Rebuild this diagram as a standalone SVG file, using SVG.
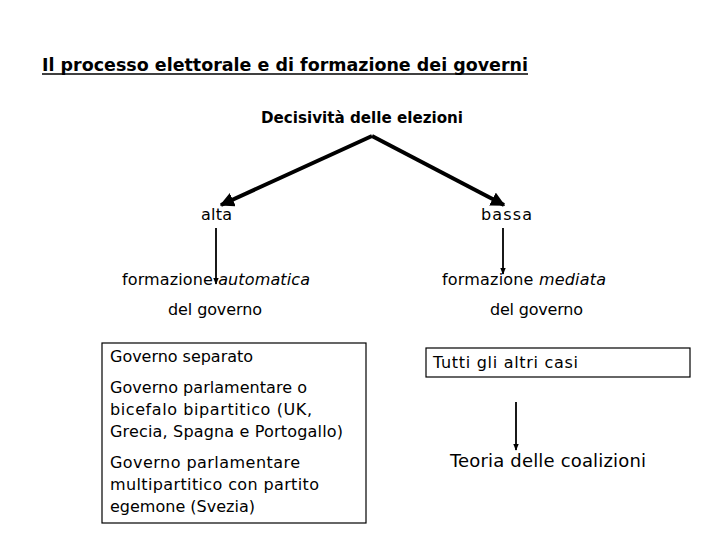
<svg xmlns="http://www.w3.org/2000/svg" width="720" height="540" viewBox="0 0 720 540">
<defs>
<style>
text{font-family:"DejaVu Sans","Liberation Sans",sans-serif;fill:#000}
.t{font-size:16px}
.b{font-weight:bold}
.box{fill:none;stroke:#000;stroke-width:1.2}
.thick{stroke:#000;stroke-width:4;fill:none}
.thin{stroke:#000;stroke-width:1.8;fill:none}
</style>
<marker id="ah" viewBox="0 0 10 10" refX="9" refY="5" markerWidth="3.6" markerHeight="3.6" orient="auto" markerUnits="strokeWidth"><path d="M0,0 L10,5 L0,10 z" fill="#000"/></marker>
<marker id="ahs" viewBox="0 0 10 10" refX="9" refY="5" markerWidth="4" markerHeight="4" orient="auto" markerUnits="strokeWidth"><path d="M0,1 L10,5 L0,9 z" fill="#000"/></marker>
</defs>
<rect width="720" height="540" fill="#fff"/>
<g id="title">
<text x="42" y="71" class="b" font-size="17" textLength="486" lengthAdjust="spacingAndGlyphs">Il processo elettorale e di formazione dei governi</text>
<line x1="42" y1="74" x2="528" y2="74" stroke="#000" stroke-width="1.5"/>
</g>
<g id="decisivita"><text x="261" y="123" class="b" font-size="15" textLength="202" lengthAdjust="spacingAndGlyphs">Decisività delle elezioni</text></g>
<g id="alta"><text x="201" y="220" class="t" textLength="31">alta</text></g>
<g id="bassa"><text x="481" y="220" class="t" textLength="51">bassa</text></g>
<g id="automatica">
<text x="122" y="285" class="t" textLength="188">formazione <tspan font-style="italic">automatica</tspan></text>
<text x="168" y="315" class="t" textLength="94">del governo</text>
</g>
<g id="mediata">
<text x="442" y="285" class="t" textLength="164">formazione <tspan font-style="italic">mediata</tspan></text>
<text x="490" y="315" class="t" textLength="93">del governo</text>
</g>
<g id="casi-left">
<rect x="102" y="343" width="264" height="180" class="box"/>
<text x="110" y="362" class="t" textLength="143">Governo separato</text>
<text x="110" y="393" class="t" textLength="197">Governo parlamentare o</text>
<text x="110" y="415" class="t" textLength="202">bicefalo bipartitico (UK,</text>
<text x="110" y="437" class="t" textLength="233">Grecia, Spagna e Portogallo)</text>
<text x="110" y="468" class="t" textLength="190">Governo parlamentare</text>
<text x="110" y="490" class="t" textLength="209">multipartitico con partito</text>
<text x="110" y="512" class="t" textLength="145">egemone (Svezia)</text>
</g>
<g id="casi-right">
<rect x="426" y="348" width="264" height="29" class="box"/>
<text x="433" y="368" class="t" textLength="145">Tutti gli altri casi</text>
</g>
<g id="teoria"><text x="450" y="467" font-size="18" textLength="196">Teoria delle coalizioni</text></g>
<g id="connectors">
<line x1="372" y1="136" x2="221" y2="205" class="thick" marker-end="url(#ah)"/>
<line x1="372" y1="136" x2="504" y2="205" class="thick" marker-end="url(#ah)"/>
<line x1="216" y1="228" x2="216" y2="284" class="thin" marker-end="url(#ahs)"/>
<line x1="503" y1="228" x2="503" y2="274" class="thin" marker-end="url(#ahs)"/>
<line x1="516" y1="402" x2="516" y2="450" class="thin" marker-end="url(#ahs)"/>
</g>
</svg>
